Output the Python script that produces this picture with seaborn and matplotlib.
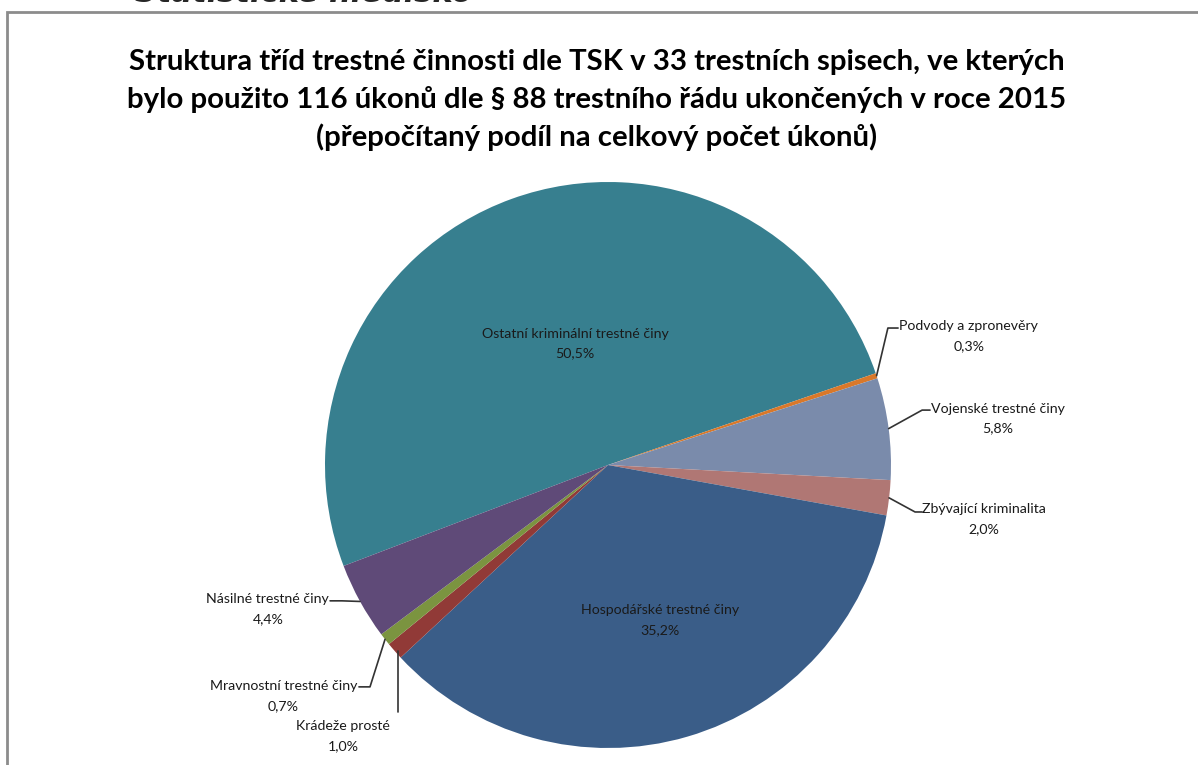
import numpy as np
import seaborn as sns
import matplotlib.pyplot as plt
from matplotlib.patches import Rectangle

# data
categories = ["Ostatní kriminální trestné činy", "Podvody a zpronevěry",
              "Vojenské trestné činy", "Zbývající kriminalita",
              "Hospodářské trestné činy", "Krádeže prosté",
              "Mravnostní trestné činy", "Násilné trestné činy"]
shares = [50.5, 0.3, 5.8, 2.0, 35.2, 1.0, 0.7, 4.4]
pct_labels = ["50,5%", "0,3%", "5,8%", "2,0%", "35,2%", "1,0%", "0,7%", "4,4%"]

colors = ["#377f8f", "#d9782a", "#7a8bab", "#b07774", "#3a5d88",
          "#913a37", "#7b9440", "#5f4a78"]

sns.set_theme(style="white")
plt.rcParams['font.family'] = ['Lato', 'DejaVu Sans']

fig = plt.figure(figsize=(11.98, 7.65), dpi=100)
fig.patch.set_facecolor("white")

# frame of the chart area (cut off on right / bottom)
fig.patches.append(Rectangle((7 / 1198, -0.1), 1.2, 1.1 - 12 / 765,
                             transform=fig.transFigure, fill=False,
                             edgecolor="#8c8c8c", linewidth=2))

# heading of the page, mostly cut off above the picture like in the source
fig.text(135 / 1198, 1 - 1.8 / 765, "Statistické hledisko", fontsize=22,
         fontweight="bold", fontstyle="italic", va="baseline",
         family="DejaVu Sans")

fig.text(597 / 1198, 1 - 100 / 765,
         "Struktura tříd trestné činnosti dle TSK v 33 trestních spisech, ve kterých\n"
         "bylo použito 116 úkonů dle § 88 trestního řádu ukončených v roce 2015\n"
         "(přepočítaný podíl na celkový počet úkonů)",
         ha="center", va="center", fontsize=21.2, fontweight="bold",
         linespacing=1.5, color="black")

ax = fig.add_axes([(608 - 283) / 1198, (765 - 465 - 283) / 765,
                   566 / 1198, 566 / 765])
wedges, _ = ax.pie(shares, colors=sns.color_palette(colors), startangle=200.9,
                   counterclock=False, radius=1,
                   wedgeprops=dict(linewidth=0))
ax.set_xlim(-1, 1)
ax.set_ylim(-1, 1)
ax.set_aspect("auto")
ax.axis("off")

txt = dict(fontsize=10.2, color="#1a1a1a", multialignment="center",
           linespacing=1.75)

# label layout: (kind, text x, text y, ha, leader points)
layout = [
    ("in", -0.117, 0.428, "center", None),
    ("out", 1.03, 0.456, "left", [(0.989, 0.484), (1.025, 0.484)]),
    ("out", 1.14, 0.163, "left", [(1.11, 0.194), (1.138, 0.194)]),
    ("out", 1.11, -0.191, "left", [(1.085, -0.166), (1.11, -0.166)]),
    ("in", 0.184, -0.548, "center", None),
    ("out", -0.936, -0.958, "center", [(-0.742, -0.873)]),
    ("out", -0.887, -0.816, "right", [(-0.841, -0.784), (-0.88, -0.784)]),
    ("out", -0.985, -0.509, "right", [(-0.94, -0.48), (-0.982, -0.48)]),
]

for w, cat, pl, (kind, tx, ty, ha, pts) in zip(wedges, categories, pct_labels, layout):
    ax.text(tx, ty, f"{cat}\n{pl}", ha=ha, va="center", **txt)
    if pts:
        mid = np.deg2rad((w.theta1 + w.theta2) / 2)
        x0, y0 = np.cos(mid), np.sin(mid)
        if len(pts) == 1:
            x0 = pts[0][0]
        xs = [x0] + [p[0] for p in pts]
        ys = [y0] + [p[1] for p in pts]
        ax.plot(xs, ys, color="#333333", linewidth=1.2, clip_on=False)

fig.savefig("out.png", dpi=100)
